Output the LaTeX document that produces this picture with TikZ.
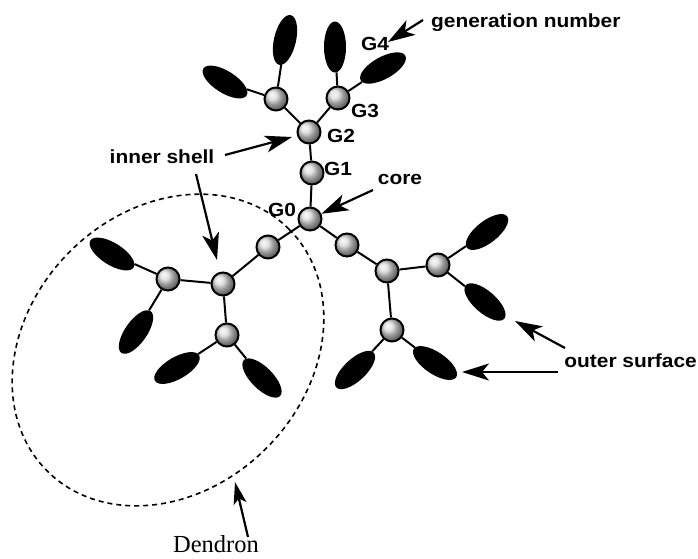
\documentclass[tikz,border=0pt]{standalone}
\usepackage{fontspec}
\setmainfont{Liberation Serif}
\newfontfamily\lblfont[FakeStretch=1.1]{Liberation Sans}
\usepackage{tikz}
\usetikzlibrary{shapes,arrows.meta,positioning}
\tikzstyle{ball} = [circle, draw, line width=2pt, ball color=gray!30, minimum size=23pt, inner sep=0pt]
\tikzstyle{lobe} = [ellipse, fill=black, minimum width=51pt, minimum height=22pt, inner sep=0pt]
\tikzstyle{bond} = [line width=2pt]
\tikzstyle{lbl} = [font=\lblfont\bfseries\fontsize{19}{21}\selectfont, inner sep=0pt]
\tikzstyle{arrow} = [-{Stealth[length=27pt,width=17pt,inset=7pt]}, line width=2.2pt]

\begin{document}
\begin{tikzpicture}[x=1pt, y=-1pt]
    \useasboundingbox (0,0) rectangle (698,558);

    % dendron boundary
    \draw[line width=1.6pt, dash pattern=on 5pt off 4pt, rotate around={45:(168,350)}]
        (168,350) ellipse [x radius=171, y radius=139];

    % core and upper branch
    \node[ball] (core) at (310,219) {};
    \node[ball] (g1) at (312,173) {};
    \node[ball] (g2) at (309,132) {};
    \node[ball] (g3l) at (276,99) {};
    \node[ball] (g3r) at (338,98) {};
    \node[lobe, rotate=77] (t1) at (285,40) {};
    \node[lobe, rotate=-32] (t2) at (225,82) {};
    \node[lobe, rotate=90] (t3) at (335,47) {};
    \node[lobe, rotate=29] (t4) at (383,68) {};

    % left branch (dendron)
    \node[ball] (la) at (268,247) {};
    \node[ball] (lb) at (223,284) {};
    \node[ball] (lc) at (168,279) {};
    \node[ball] (ld) at (227,335) {};
    \node[lobe, rotate=-32] (l1) at (112,254) {};
    \node[lobe, rotate=55] (l2) at (136,332) {};
    \node[lobe, rotate=30] (l3) at (177,368) {};
    \node[lobe, rotate=-45] (l4) at (262,378) {};

    % right branch
    \node[ball] (ra) at (347,245) {};
    \node[ball] (rb) at (387,271) {};
    \node[ball] (rc) at (438,265) {};
    \node[ball] (rd) at (392,330) {};
    \node[lobe, rotate=38] (r1) at (487,232) {};
    \node[lobe, rotate=-41] (r2) at (485,302) {};
    \node[lobe, rotate=43] (r3) at (355,370) {};
    \node[lobe, rotate=-34] (r4) at (435,363) {};

    \draw[bond] (core) -- (g1) -- (g2) -- (g3l);
    \draw[bond] (g2) -- (g3r);
    \draw[bond] (g3l) -- (t1);
    \draw[bond] (g3l) -- (t2);
    \draw[bond] (g3r) -- (t3);
    \draw[bond] (g3r) -- (t4);
    \draw[bond] (core) -- (la) -- (lb) -- (lc);
    \draw[bond] (lb) -- (ld);
    \draw[bond] (lc) -- (l1);
    \draw[bond] (lc) -- (l2);
    \draw[bond] (ld) -- (l3);
    \draw[bond] (ld) -- (l4);
    \draw[bond] (core) -- (ra) -- (rb) -- (rc);
    \draw[bond] (rb) -- (rd);
    \draw[bond] (rc) -- (r1);
    \draw[bond] (rc) -- (r2);
    \draw[bond] (rd) -- (r3);
    \draw[bond] (rd) -- (r4);

    % labels
    \node[lbl, anchor=base west] (gen) at (431,27) {generation number};
    \node[lbl, anchor=base] (g4lbl) at (375,50) {G4};
    \node[lbl, anchor=base] (g3lbl) at (365,117) {G3};
    \node[lbl, anchor=base] (g2lbl) at (341,142) {G2};
    \node[lbl, anchor=base] (g1lbl) at (338,175) {G1};
    \node[lbl, anchor=base] (g0lbl) at (282,216) {G0};
    \node[lbl, anchor=base] (corelbl) at (400,184) {core};
    \node[lbl, anchor=base] (inner) at (162,163) {inner shell};
    \node[lbl, anchor=base east] (outer) at (697,367) {outer surface};
    \node[font=\fontsize{24.5}{26}\selectfont, anchor=base, inner sep=0pt] (dendron) at (216,552) {Dendron};

    % pointers
    \coordinate (genA) at (423,20);
    \coordinate (genB) at (388,42);
    \coordinate (coreA) at (373,190);
    \coordinate (inA) at (225,155);
    \coordinate (inB) at (292,137);
    \coordinate (inC) at (196,174);
    \coordinate (inD) at (217,260);
    \coordinate (outA) at (565,348);
    \coordinate (outB) at (515,321);
    \coordinate (outC) at (558,372);
    \coordinate (outD) at (462,372);
    \coordinate (denA) at (248,537);
    \coordinate (denB) at (235,482);
    \draw[arrow] (genA) -- (genB);
    \draw[arrow] (coreA) -- (core);
    \draw[arrow] (inA) -- (inB);
    \draw[arrow] (inC) -- (inD);
    \draw[arrow] (outA) -- (outB);
    \draw[arrow] (outC) -- (outD);
    \draw[arrow, -{Stealth[length=22pt,width=13pt,inset=5pt]}] (denA) -- (denB);
\end{tikzpicture}
\end{document}
